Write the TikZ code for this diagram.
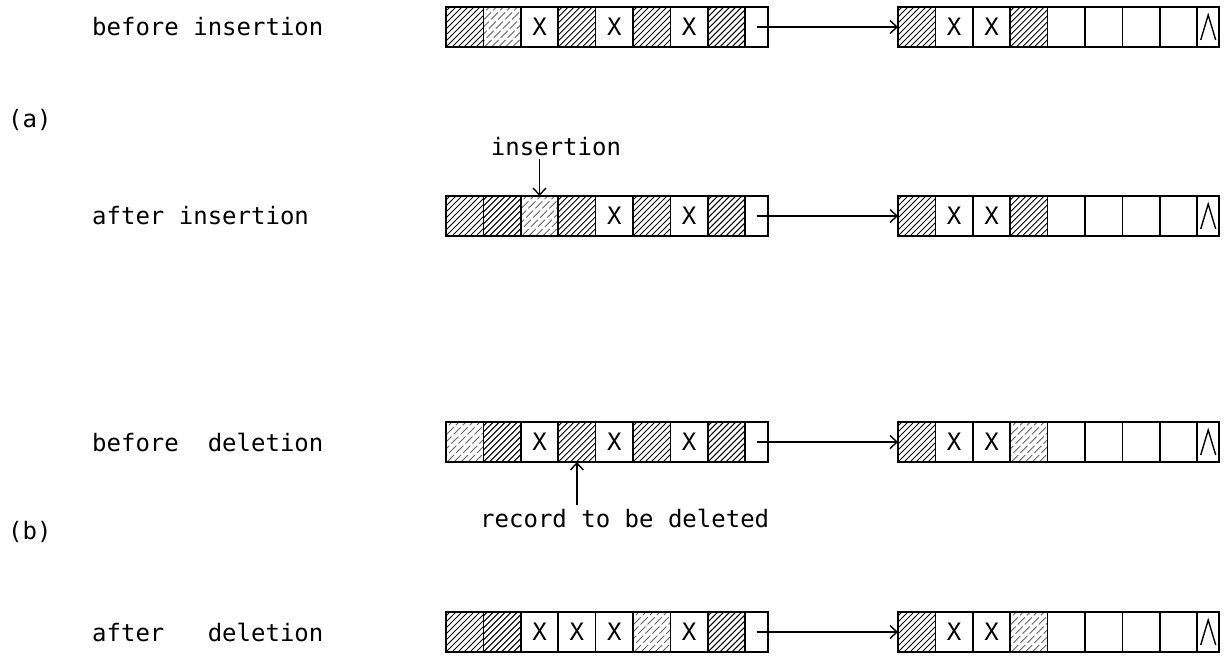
\documentclass[tikz,border=0pt]{standalone}
\usepackage{fontspec}
\usetikzlibrary{arrows.meta,calc}
\newfontfamily\tw{DejaVu Sans Mono}

% width of one record cell
\def\cw{37.4}

\tikzset{
  txt/.style={font=\tw\fontsize{24}{28}\selectfont, inner sep=0pt},
  lbl/.style={txt, anchor=west},
  cellbase/.style={draw, line width=1.6pt, minimum height=40pt, minimum width=\cw pt,
    inner sep=0pt, outer sep=0pt, anchor=north west},
  hatching/.style 2 args={path picture={\foreach \k in {-48,#2,...,40}
      \draw[#1] ([xshift=\k pt]path picture bounding box.south west) -- ++(50pt,50pt);}},
  darkline/.style={line width=1pt},
  lightline/.style={line width=0.9pt, black!60, dash pattern=on 10pt off 3pt},
  cellH/.style={cellbase, hatching={darkline}{-42}},
  cellL/.style={cellbase, hatching={lightline}{-41}},
  cellX/.style={cellbase, label={[txt]center:X}},
  cellE/.style={cellbase},
  cellP/.style={cellbase, minimum width=23pt},
  cellN/.style={cellbase, minimum width=22pt,
    path picture={\draw[line width=1.4pt]
      ([shift={(3.5pt,7pt)}]path picture bounding box.south west)
      -- ([yshift=-8pt]path picture bounding box.north)
      -- ([shift={(-3.5pt,7pt)}]path picture bounding box.south east);}},
  link/.style={line width=1.4pt, -{Straight Barb[length=7pt,width=13pt,line width=1.4pt]}},
}

% one block of cells: name prefix, left x, top y, list of cell kinds
\newcommand{\cellrow}[4]{%
  \foreach \ty [count=\i] in {#4} {%
    \edef\mkcell{\noexpand\node[cell\ty] (#1\i) at ({#2+(\i-1)*\cw},#3) {};}%
    \mkcell
  }%
}

\begin{document}
\begin{tikzpicture}[x=1pt,y=-1pt]
\useasboundingbox[fill=white] (0,0) rectangle (1230,657);

% (a) insertion
\node[lbl] (lb1) at (92,27) {before insertion};
\cellrow{a1-}{446}{7}{H,L,X,H,X,H,X,H,P}
\cellrow{b1-}{898}{7}{H,X,X,H,E,E,E,E,N}
\draw[link] (a1-9.center) -- (b1-1.west);

\node[lbl] (pa) at (8,120) {(a)};

\node[txt] (ins) at (556,147) {insertion};
\node[lbl] (lb2) at (92,216) {after insertion};
\cellrow{a2-}{446}{196}{H,H,L,H,X,H,X,H,P}
\cellrow{b2-}{898}{196}{H,X,X,H,E,E,E,E,N}
\draw[link] ([yshift=-3pt]ins.south -| a2-3.north) -- (a2-3.north);
\draw[link] (a2-9.center) -- (b2-1.west);

% (b) deletion
\node[lbl] (lb3) at (92,442) {before\ \ deletion};
\cellrow{a3-}{446}{422}{L,H,X,H,X,H,X,H,P}
\cellrow{b3-}{898}{422}{H,X,X,L,E,E,E,E,N}
\draw[link] (a3-9.center) -- (b3-1.west);

\node[txt, anchor=west] (rec) at (480,518) {record to be deleted};
\draw[link] ([yshift=3pt]rec.north -| a3-4.south) -- (a3-4.south);

\node[lbl] (pb) at (8,532) {(b)};

\node[lbl] (lb4) at (92,632) {after\ \ \ deletion};
\cellrow{a4-}{446}{612}{H,H,X,X,X,L,X,H,P}
\cellrow{b4-}{898}{612}{H,X,X,L,E,E,E,E,N}
\draw[link] (a4-9.center) -- (b4-1.west);
\end{tikzpicture}
\end{document}
